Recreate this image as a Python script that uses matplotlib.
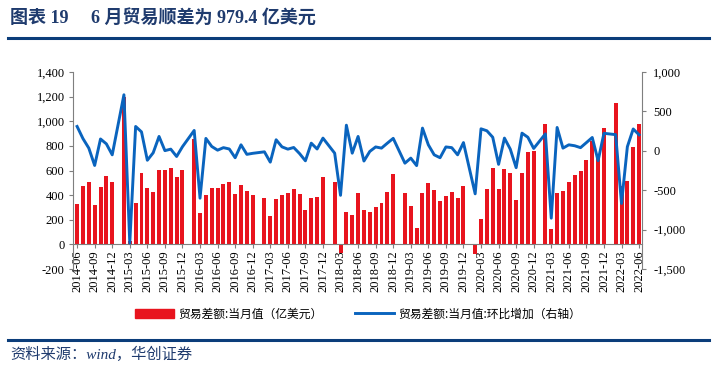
import numpy as np
import pandas as pd
import matplotlib
matplotlib.use("Agg")
import matplotlib.pyplot as plt
from matplotlib.ticker import FuncFormatter, MultipleLocator
from matplotlib.patches import Patch
from matplotlib.lines import Line2D

plt.rcParams['font.family'] = ['Liberation Serif', 'Noto Sans CJK SC']
plt.rcParams['axes.unicode_minus'] = False

# months 2014-06 .. 2022-06 (January is reported together with February)
months = pd.date_range('2014-06-01', periods=97, freq='MS')
labels = [d.strftime('%Y-%m') for d in months]

nan = np.nan
# 贸易差额:当月值 (亿美元)
balance = [325, 476, 503, 317, 463, 552, 503,
           nan, 1199, 27, 333, 577, 455, 422, 601, 601, 617, 544, 601,
           nan, 855, 252, 400, 455, 457, 487, 503, 409, 485, 433, 398,
           nan, 380, 230, 370, 403, 414, 453, 406, 278, 374, 388, 544,
           nan, 509, -68, 265, 238, 414, 279, 266, 307, 333, 422, 571,
           nan, 416, 315, 133, 414, 501, 444, 352, 395, 428, 376, 476,
           nan, -79, 203, 452, 623, 450, 609, 577, 360, 577, 747, 761,
           nan, 975, 122, 414, 436, 503, 563, 596, 685, 840, 717, 942,
           nan, 1145, 473, 514, 790, 979]
# 环比增加 (右轴)
mom = [309, 155, 34, -186, 150, 88, -51,
       nan, 711, -1170, 309, 240, -120, -25, 182, 2, 21, -72, 52,
       nan, 258, -601, 157, 55, 8, 40, 23, -88, 76, -45, -32,
       nan, -13, -144, 140, 50, 21, 42, -35, -127, 97, 23, 161,
       nan, -30, -565, 325, -30, 182, -130, -8, 49, 34, 97, 158,
       nan, -157, -93, -188, 288, 76, -51, -88, 49, 40, -51, 104,
       nan, -546, 279, 254, 172, -172, 161, 21, -214, 224, 172, 30,
       nan, 215, -855, 296, 34, 76, 64, 40, 104, 169, -125, 222,
       nan, 205, -668, 52, 277, 203]

idx = np.arange(len(months))
bal = np.array(balance, dtype=float)
mm = np.array(mom, dtype=float)

fig = plt.figure(figsize=(7.23, 3.75), dpi=100)
ax = fig.add_axes([73 / 723, 1 - 269 / 375, (642 - 73) / 723, (269 - 72) / 375])
ax2 = ax.twinx()

red = '#E8141E'
blue = '#0A64BE'
navy = '#1F3B6E'
rule = '#0B3D7A'
grey = '#7F7F7F'

ok = ~np.isnan(bal)
ax.bar(idx[ok], bal[ok], width=0.68, color=red, zorder=2)
okm = ~np.isnan(mm)
ax2.plot(idx[okm], mm[okm], color=blue, lw=2.1, zorder=3)

ax.set_xlim(-0.7, 96.5)
ax.set_ylim(-200, 1400)
ax.yaxis.set_major_locator(MultipleLocator(200))
ax2.set_ylim(-1500, 1000)
ax2.yaxis.set_major_locator(MultipleLocator(500))
fmt = FuncFormatter(lambda v, p: f'{v:,.0f}')
ax.yaxis.set_major_formatter(fmt)
ax2.yaxis.set_major_formatter(fmt)

ax.spines['bottom'].set_position(('data', 0))
ax.set_xticks(idx[::3])
ax.set_xticklabels(labels[::3])
ax.tick_params(axis='x', labelrotation=90, labelsize=9, length=3, color=grey, pad=1)
for a in (ax, ax2):
    a.spines['top'].set_visible(False)
    a.patch.set_visible(False)
ax.spines['right'].set_visible(False)
ax2.spines['left'].set_visible(False)
ax2.spines['bottom'].set_visible(False)
ax.spines['left'].set_color(grey)
ax2.spines['right'].set_color(grey)
ax.spines['bottom'].set_color(grey)
ax.tick_params(axis='y', labelsize=9, length=3, color=grey, pad=3)
ax2.tick_params(axis='y', labelsize=9, length=3, color=grey, pad=5)

# title and rules
fig.text(10 / 723, 1 - 19 / 375, '图表 19　 6 月贸易顺差为 979.4 亿美元',
         family=['Liberation Serif', 'Noto Sans CJK SC'],
         fontsize=13, fontweight='bold', color=navy, va='center', ha='left')
fig.add_artist(Line2D([8 / 723, 709 / 723], [1 - 38 / 375] * 2, color=rule, lw=2.2))
fig.add_artist(Line2D([8 / 723, 709 / 723], [1 - 340 / 375] * 2, color=rule, lw=2.2))
fig.text(10 / 723, 1 - 354 / 375, '资料来源：wind，华创证券',
         family=['Liberation Serif', 'Noto Sans CJK SC'],
         fontsize=11, style='italic', color=navy, va='center', ha='left')

handles = [Patch(color=red), Line2D([0], [0], color=blue, lw=2.1)]
fig.legend(handles, ['贸易差额:当月值（亿美元）', '贸易差额:当月值:环比增加（右轴）'],
           loc='center', bbox_to_anchor=(358 / 723, 1 - 314 / 375), ncol=2, frameon=False,
           prop={'family': ['Noto Sans CJK SC'], 'size': 8.5}, handlelength=3.3,
           handleheight=0.8, columnspacing=2.8, handletextpad=0.3)

fig.savefig('out.png', dpi=100)
